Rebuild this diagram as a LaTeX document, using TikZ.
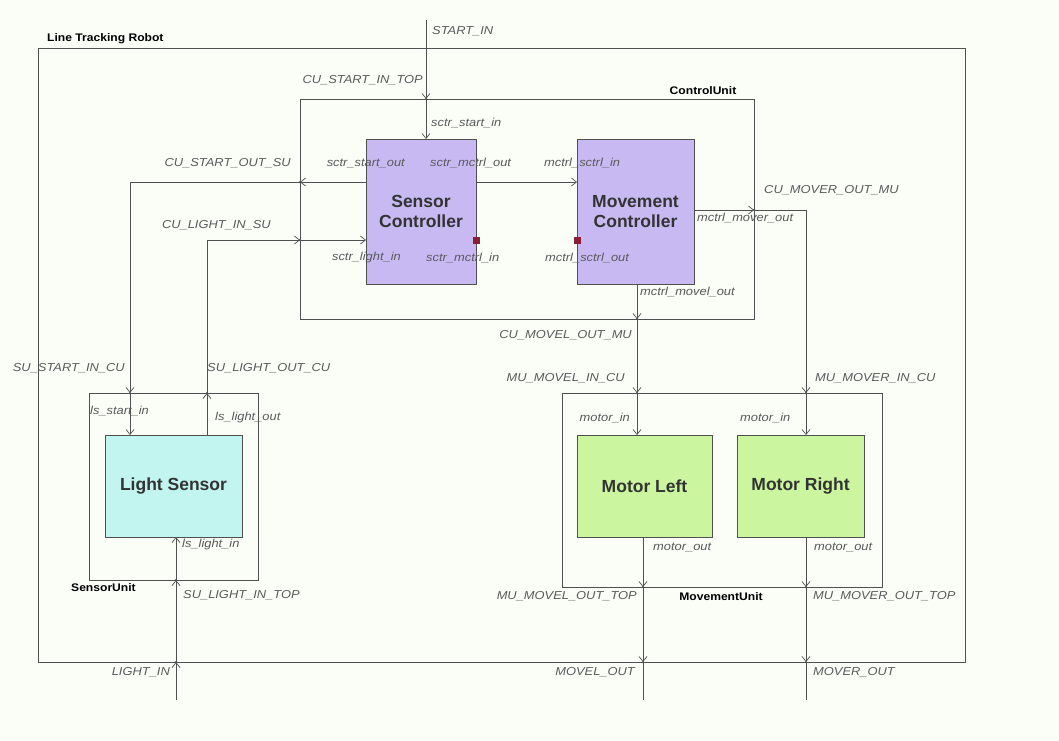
\documentclass[tikz,border=0pt]{standalone}
\usepackage{fontspec}
\setsansfont{Liberation Sans}
\newfontfamily\labfont[FakeStretch=1.12]{Liberation Sans}
\newfontfamily\ttlfont[FakeStretch=1.1]{Liberation Sans}
\usetikzlibrary{arrows.meta}
\definecolor{bgc}{HTML}{FBFDF7}
\definecolor{ctrlfill}{HTML}{C9B9F2}
\definecolor{lsfill}{HTML}{C2F5F0}
\definecolor{motfill}{HTML}{CBF59E}
\definecolor{wire}{HTML}{505050}
\definecolor{lbl}{HTML}{5A5A5A}
\definecolor{portred}{HTML}{8A1E32}
\tikzset{
  unitbox/.style={draw=wire, line width=0.9pt, fill=none},
  block/.style={draw=wire, line width=1pt, inner sep=0pt, font=\sffamily\bfseries\fontsize{17.5}{20}\selectfont, text=black!80, align=center},
  wirel/.style={draw=wire, line width=0.9pt},
  arr/.style={wirel, -{Straight Barb[length=5pt,width=8pt,line width=0.7pt]}},
  lab/.style={font=\labfont\itshape\fontsize{11.5}{13}\selectfont, text=lbl, inner sep=1pt},
  title/.style={font=\ttlfont\bfseries\fontsize{11}{13}\selectfont, text=black, inner sep=1pt},
  jdot/.style={circle, fill=wire, inner sep=0pt, minimum size=2.5pt},
  rport/.style={rectangle, fill=portred, inner sep=0pt, minimum size=7pt}
}
\begin{document}
\begin{tikzpicture}[x=1pt,y=-1pt]
\path[fill=bgc] (0,0) rectangle (1059,740);
\useasboundingbox (0,0) rectangle (1059,740);

% unit boxes
\draw[unitbox] (38,48) rectangle (965,662);
\draw[unitbox] (300,99) rectangle (754,319);
\draw[unitbox] (89,393) rectangle (258,580);
\draw[unitbox] (562,393) rectangle (882,587);

% blocks
\node[block, fill=ctrlfill, minimum width=110pt, minimum height=145pt] (sc) at (421,211.5) {Sensor\\Controller};
\node[block, fill=ctrlfill, minimum width=117pt, minimum height=145pt] (mc) at (635.5,211.5) {Movement\\Controller};
\node[block, fill=lsfill, minimum width=137pt, minimum height=102pt] (ls) at (173.5,486) {Light Sensor};
\node[block, fill=motfill, minimum width=135pt, minimum height=102pt] (ml) at (644.5,486) {Motor Left};
\node[block, fill=motfill, minimum width=127pt, minimum height=102pt] (mr) at (800.5,486) {Motor Right};

% unconnected ports
\node[rport] (scmin) at (476,240) {};
\node[rport] (mcsout) at (577,240) {};

% coordinates of boundary points
\coordinate (startin) at (426,20);
\coordinate (cutop) at (426,99);
\coordinate (sctop) at (426,139);

\coordinate (scso) at (366,182);
\coordinate (culeftA) at (300,182);
\coordinate (bendA) at (130,182);
\coordinate (sutopA) at (130,393);
\coordinate (lstopA) at (130,435);

\coordinate (lstopB) at (207,435);
\coordinate (sutopB) at (207,393);
\coordinate (bendB) at (207,240);
\coordinate (culeftB) at (300,240);
\coordinate (scli) at (366,240);

\coordinate (scmo) at (476,182);
\coordinate (mcsi) at (577,182);

\coordinate (mcmr) at (694,210);
\coordinate (curight) at (754,210);
\coordinate (bendR) at (806,210);
\coordinate (mutopR) at (806,393);
\coordinate (mrtop) at (806,435);

\coordinate (mcml) at (637,284);
\coordinate (cubot) at (637,319);
\coordinate (mutopL) at (637,393);
\coordinate (mltop) at (637,435);

\coordinate (mlbot) at (643,537);
\coordinate (mubotL) at (643,587);
\coordinate (robotL) at (643,662);
\coordinate (movelout) at (643,700);

\coordinate (mrbot) at (806,537);
\coordinate (mubotR) at (806,587);
\coordinate (robotR) at (806,662);
\coordinate (moverout) at (806,700);

\coordinate (lightin) at (176,700);
\coordinate (robotB) at (176,662);
\coordinate (subot) at (176,580);
\coordinate (lsbot) at (176,537);

% START_IN
\draw[arr] (startin) -- (cutop);
\draw[arr] (cutop) -- (sctop);
% start out to sensor unit
\draw[arr] (scso) -- (culeftA);
\draw[arr] (culeftA) -- (bendA) -- (sutopA);
\draw[arr] (sutopA) -- (lstopA);
% light out to controller
\draw[arr] (lstopB) -- (sutopB);
\draw[arr] (sutopB) -- (bendB) -- (culeftB);
\draw[arr] (culeftB) -- (scli);
% sensor ctrl -> movement ctrl
\draw[arr] (scmo) -- (mcsi);
% mover
\draw[arr] (mcmr) -- (curight);
\draw[arr] (curight) -- (bendR) -- (mutopR);
\draw[arr] (mutopR) -- (mrtop);
% movel
\draw[arr] (mcml) -- (cubot);
\draw[arr] (cubot) -- (mutopL);
\draw[arr] (mutopL) -- (mltop);
% motor outputs
\draw[arr] (mlbot) -- (mubotL);
\draw[arr] (mubotL) -- (robotL);
\draw[wirel] (robotL) -- (movelout);
\draw[arr] (mrbot) -- (mubotR);
\draw[arr] (mubotR) -- (robotR);
\draw[wirel] (robotR) -- (moverout);
% light in
\draw[arr] (lightin) -- (robotB);
\draw[arr] (robotB) -- (subot);
\draw[arr] (subot) -- (lsbot);

% junction dots
\foreach \p in {cutop,culeftA,sutopA,sutopB,culeftB,curight,mutopR,cubot,mutopL,mubotL,robotL,mubotR,robotR,robotB,subot}
  \node[jdot] at (\p) {};

% titles
\node[title, anchor=west] (t1) at (46,39) {Line Tracking Robot};
\node[title] (t2) at (703,91) {ControlUnit};
\node[title, anchor=west] (t3) at (70,588) {SensorUnit};
\node[title] (t4) at (721,597) {MovementUnit};

% labels
\node[lab, anchor=west] (l1) at (431,31) {START\_IN};
\node[lab, anchor=east] (l2) at (424,80) {CU\_START\_IN\_TOP};
\node[lab, anchor=west] (l3) at (430,123) {sctr\_start\_in};
\node[lab, anchor=east] (l4) at (406,163) {sctr\_start\_out};
\node[lab, anchor=west] (l5) at (429,163) {sctr\_mctrl\_out};
\node[lab, anchor=west] (l6) at (543,163) {mctrl\_sctrl\_in};
\node[lab, anchor=east] (l7) at (292,163) {CU\_START\_OUT\_SU};
\node[lab, anchor=east] (l8) at (272,225) {CU\_LIGHT\_IN\_SU};
\node[lab, anchor=east] (l9) at (402,258) {sctr\_light\_in};
\node[lab, anchor=west] (l10) at (425,258) {sctr\_mctrl\_in};
\node[lab, anchor=west] (l11) at (544,258) {mctrl\_sctrl\_out};
\node[lab, anchor=west] (l12) at (763,190) {CU\_MOVER\_OUT\_MU};
\node[lab, anchor=west] (l13) at (696,218) {mctrl\_mover\_out};
\node[lab, anchor=west] (l14) at (639,292) {mctrl\_movel\_out};
\node[lab, anchor=east] (l15) at (633,335) {CU\_MOVEL\_OUT\_MU};
\node[lab, anchor=east] (l16) at (126,368) {SU\_START\_IN\_CU};
\node[lab, anchor=west] (l17) at (206,368) {SU\_LIGHT\_OUT\_CU};
\node[lab, anchor=east] (l18) at (626,378) {MU\_MOVEL\_IN\_CU};
\node[lab, anchor=west] (l19) at (814,378) {MU\_MOVER\_IN\_CU};
\node[lab, anchor=west] (l20) at (89,411) {ls\_start\_in};
\node[lab, anchor=west] (l21) at (214,418) {ls\_light\_out};
\node[lab, anchor=east] (l22) at (631,418) {motor\_in};
\node[lab, anchor=west] (l23) at (739,418) {motor\_in};
\node[lab, anchor=west] (l24) at (181,545) {ls\_light\_in};
\node[lab, anchor=west] (l25) at (652,547) {motor\_out};
\node[lab, anchor=west] (l26) at (813,547) {motor\_out};
\node[lab, anchor=west] (l27) at (182,595) {SU\_LIGHT\_IN\_TOP};
\node[lab, anchor=east] (l28) at (638,596) {MU\_MOVEL\_OUT\_TOP};
\node[lab, anchor=west] (l29) at (812,596) {MU\_MOVER\_OUT\_TOP};
\node[lab, anchor=east] (l30) at (171,672) {LIGHT\_IN};
\node[lab, anchor=east] (l31) at (636,672) {MOVEL\_OUT};
\node[lab, anchor=west] (l32) at (812,672) {MOVER\_OUT};
\end{tikzpicture}
\end{document}
